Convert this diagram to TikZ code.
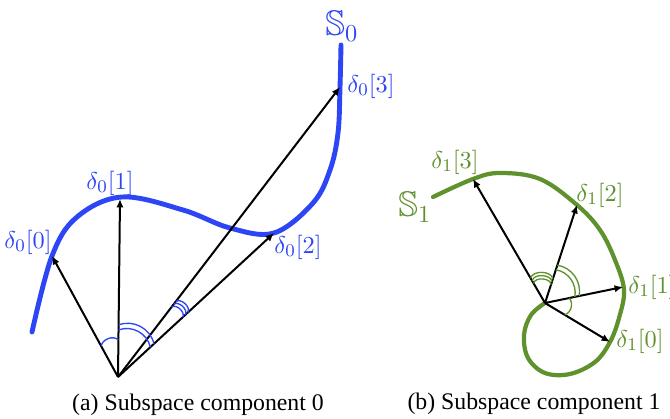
\documentclass[tikz,border=0pt]{standalone}
\usepackage{amssymb}
\usepackage{fontspec}
\setmainfont{Liberation Serif}
\usetikzlibrary{arrows.meta, calc}
\definecolor{sblue}{RGB}{45,70,245}
\definecolor{sgreen}{RGB}{95,145,45}

\begin{document}
\begin{tikzpicture}[x=0.45pt, y=-0.45pt, >={Latex[length=3.8pt,width=3.3pt]},
  vec/.style={->, line width=0.9pt},
  curve/.style={line width=2.2pt, line cap=round},
  lbl/.style={font=\fontsize{11.2}{13}\selectfont, inner sep=0pt},
  setlbl/.style={font=\fontsize{16}{18}\selectfont, inner sep=0pt},
  subcap/.style={font=\fontsize{10.7}{13}\selectfont},
  ang/.style={draw=#1, line width=0.6pt}]
  \useasboundingbox (0,0) rectangle (670,419);
  % subspace component 0
  \coordinate (o0) at (118,377);
  \coordinate (d00) at (52,256);
  \coordinate (d01) at (120,199);
  \coordinate (d02) at (274,233);
  \coordinate (d03) at (340,87);
  \draw[curve, sblue] plot[smooth, tension=0.6] coordinates {(32,332) (d00) (77,217) (122,197) (183,210) (230,228) (d02) (313,203) (330,170) (338,133) (d03) (341,45)};
  \foreach \t in {d00,d01,d02,d03} {\draw[vec] (o0) -- (\t);}
  \draw[ang=sblue] ($(o0)!15.75pt!(d00)$) to[bend left=65] ($(o0)!16.65pt!(d01)$);
  \foreach \ra/\rb in {23.4pt/22pt, 21.15pt/19.8pt}
    \draw[ang=sblue] ($(o0)!\ra!(d01)$) to[bend left=50] ($(o0)!\rb!(d02)$);
  \foreach \r in {39.6pt,41.2pt,42.75pt}
    \draw[ang=sblue] ($(o0)!\r!(d03)$) to[bend left=80] ($(o0)!\r!(d02)$);
  \node[setlbl, text=sblue] (s0) at (342,26) {$\mathbb{S}_0$};
  \node[lbl, text=sblue] (l00) at (28,242) {$\delta_0[0]$};
  \node[lbl, text=sblue] (l01) at (110,183) {$\delta_0[1]$};
  \node[lbl, text=sblue] (l02) at (298,247) {$\delta_0[2]$};
  \node[lbl, text=sblue] (l03) at (371,86) {$\delta_0[3]$};
  \node[subcap] (capa) at (198,405) {(a) Subspace component 0};
  % subspace component 1
  \coordinate (o1) at (545,303);
  \coordinate (d10) at (610,342);
  \coordinate (d11) at (623,287);
  \coordinate (d12) at (577,205);
  \coordinate (d13) at (473,179);
  \draw[curve, sgreen, line width=1.9pt] plot[smooth, tension=0.6] coordinates {(433,197) (d13) (500,173) (540,179) (d12) (600,230) (615,260) (624,290) (619,318) (d10) (595,362) (570,374) (545,373) (528,358) (524,335) (531,315) (o1)};
  \foreach \t in {d10,d11,d12,d13} {\draw[vec] (o1) -- (\t);}
  \draw[ang=sgreen] ($(o1)!11.1pt!(d11)$) to[bend left=60] ($(o1)!10.3pt!(d10)$);
  \foreach \ra/\rb in {17.9pt/15.7pt, 15.75pt/13.7pt}
    \draw[ang=sgreen] ($(o1)!\ra!(d12)$) to[bend left=45] ($(o1)!\rb!(d11)$);
  \foreach \ra/\rb in {10.2pt/8.7pt, 11.5pt/10pt, 12.8pt/11.25pt}
    \draw[ang=sgreen] ($(o1)!\ra!(d13)$) to[bend left=85] ($(o1)!\rb!(d12)$);
  \node[setlbl, text=sgreen] (s1) at (415,207) {$\mathbb{S}_1$};
  \node[lbl, text=sgreen] (l10) at (640,341) {$\delta_1[0]$};
  \node[lbl, text=sgreen, anchor=west] (l11) at (628,287) {$\delta_1[1]$};
  \node[lbl, text=sgreen] (l12) at (600,195) {$\delta_1[2]$};
  \node[lbl, text=sgreen] (l13) at (455,162) {$\delta_1[3]$};
  \node[subcap] (capb) at (534,404) {(b) Subspace component 1};
\end{tikzpicture}
\end{document}
